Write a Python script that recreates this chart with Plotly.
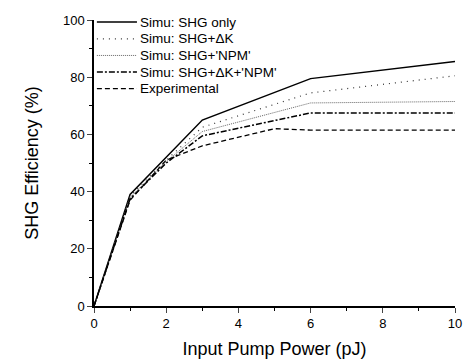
import plotly.graph_objects as go

x_shg = [0, 1, 2, 3, 6, 10]
y_shg = [0, 39, 52, 65, 79.5, 85.5]
x_dk = [0, 1, 2, 3, 6, 10]
y_dk = [0, 38.5, 51, 62.5, 74.5, 80.5]
x_npm = [0, 1, 2, 3, 6, 10]
y_npm = [0, 38, 50.5, 61, 71, 71.5]
x_dknpm = [0, 1, 2, 3, 6, 10]
y_dknpm = [0, 37.5, 50, 59.5, 67.5, 67.5]
x_exp = [0, 1, 2, 3, 5, 6, 10]
y_exp = [0, 37, 51, 56, 62, 61.5, 61.5]

names = ["Simu: SHG only", "Simu: SHG+ΔK", "Simu: SHG+'NPM'",
         "Simu: SHG+ΔK+'NPM'", "Experimental"]

series = [
    (x_shg, y_shg, "solid", 1.5, "black"),
    (x_dk, y_dk, "1px,5px", 1.2, "#333"),
    (x_npm, y_npm, "1px,1px", 1.0, "#666"),
    (x_dknpm, y_dknpm, "6px,2px,2px,2px", 1.5, "black"),
    (x_exp, y_exp, "5px,3px", 1.3, "black"),
]

fig = go.Figure()
shapes = []
annotations = []
leg_y = [0.993, 0.934, 0.876, 0.818, 0.760]
for i, ((xs, ys, dash, w, c), n) in enumerate(zip(series, names)):
    fig.add_trace(go.Scatter(x=xs, y=ys, mode="lines", name=n, showlegend=False,
                             line=dict(color=c, width=w, dash=dash)))
    shapes.append(dict(type="line", xref="paper", yref="paper",
                       x0=0.008, x1=0.119, y0=leg_y[i], y1=leg_y[i],
                       line=dict(color=c, width=w, dash=dash)))
    annotations.append(dict(xref="paper", yref="paper", x=0.122, y=leg_y[i],
                            xanchor="left", yanchor="middle", showarrow=False,
                            text=n, font=dict(size=13.5)))

fig.update_layout(
    width=466, height=364,
    margin=dict(l=94, r=11, t=20, b=58),
    paper_bgcolor="white", plot_bgcolor="white",
    font=dict(family="Liberation Sans, Arial, sans-serif", color="black", size=13),
    showlegend=False,
    shapes=shapes, annotations=annotations,
    xaxis=dict(range=[0, 10], tickvals=[0, 2, 4, 6, 8, 10], ticks="outside",
               ticklen=5, tickwidth=1.2, showgrid=False, zeroline=False,
               showline=True, linecolor="black", linewidth=1.5, automargin=False,
               minor=dict(tickvals=[1, 3, 5, 7, 9], ticks="outside", ticklen=3,
                          tickcolor="black", showgrid=False),
               title=dict(text="Input Pump Power (pJ)", font=dict(size=18), standoff=12),
               tickfont=dict(size=13)),
    yaxis=dict(range=[0, 100], tickvals=[0, 20, 40, 60, 80, 100], ticks="outside",
               ticklen=5, tickwidth=1.2, showgrid=False, zeroline=False,
               showline=True, linecolor="black", linewidth=1.5, automargin=False,
               minor=dict(tickvals=[10, 30, 50, 70, 90], ticks="outside", ticklen=3,
                          tickcolor="black", showgrid=False),
               title=dict(text="SHG Efficiency (%)", font=dict(size=18), standoff=20),
               tickfont=dict(size=13)),
)

fig.write_html("out.html")
